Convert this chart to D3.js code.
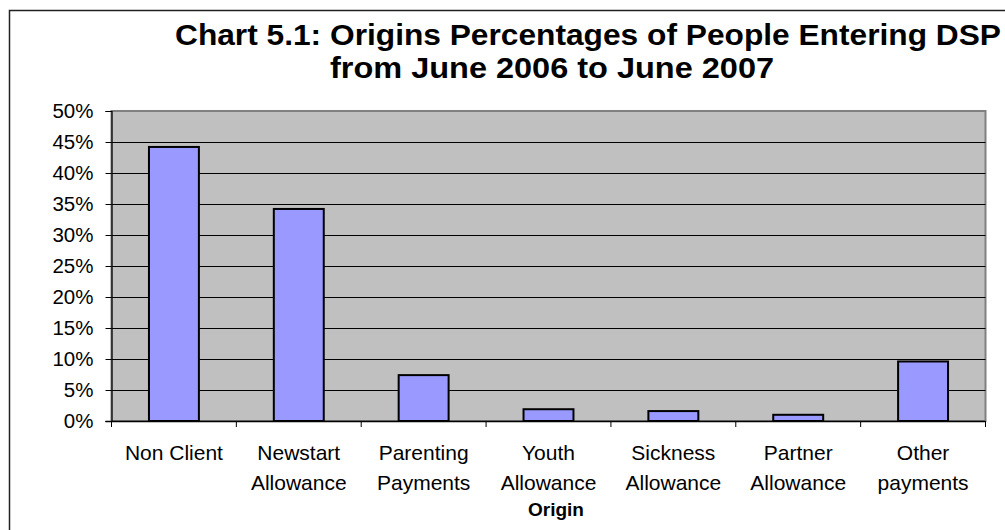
<!DOCTYPE html>
<html>
<head>
<meta charset="utf-8">
<script src="https://cdn.jsdelivr.net/npm/d3@7"></script>
<style>
  html, body { margin: 0; padding: 0; background: #fff; overflow: hidden; }
  svg { display: block; font-family: "Liberation Sans", Arial, sans-serif; }
</style>
</head>
<body>
<svg id="chart" width="1005" height="530"></svg>
<script>
// Origins of people entering DSP, June 2006 - June 2007
const categories = [
  ["Non Client"],
  ["Newstart", "Allowance"],
  ["Parenting", "Payments"],
  ["Youth", "Allowance"],
  ["Sickness", "Allowance"],
  ["Partner", "Allowance"],
  ["Other", "payments"]
];
const percentages = [44.2, 34.2, 7.4, 1.9, 1.6, 1.0, 9.6];
const yTicks = [0, 5, 10, 15, 20, 25, 30, 35, 40, 45, 50];
const titleLines = [
  "Chart 5.1: Origins Percentages of People Entering DSP",
  "from June 2006 to June 2007"
];
const xAxisTitle = "Origin";

const svg = d3.select("#chart");
const plot = { left: 111.5, right: 985.5, top: 111, bottom: 421 };

// outer chart frame (runs off the right and bottom edges)
svg.append("path")
  .attr("d", `M9.5,1000 V10.5 H1100`)
  .attr("fill", "none").attr("stroke", "#222").attr("stroke-width", 1.5);

const x = d3.scaleBand()
  .domain(d3.range(categories.length))
  .range([plot.left, plot.right])
  .paddingInner(0.6).paddingOuter(0.3);

const y = d3.scaleLinear().domain([0, 50]).range([plot.bottom, plot.top]);

// plot area background
svg.append("rect")
  .attr("x", plot.left).attr("y", plot.top)
  .attr("width", plot.right - plot.left).attr("height", plot.bottom - plot.top)
  .attr("fill", "#C0C0C0").attr("stroke", "#808080").attr("stroke-width", 2);

// horizontal gridlines
svg.append("g").selectAll("line")
  .data(yTicks.filter(d => d > 0 && d < 50))
  .join("line")
  .attr("x1", plot.left).attr("x2", plot.right)
  .attr("y1", d => Math.round(y(d)) + 0.5).attr("y2", d => Math.round(y(d)) + 0.5)
  .attr("stroke", "#000").attr("stroke-width", 1);

// bars
svg.append("g").selectAll("rect")
  .data(percentages)
  .join("rect")
  .attr("x", (d, i) => x(i))
  .attr("y", d => y(d))
  .attr("width", x.bandwidth())
  .attr("height", d => y(0) - y(d))
  .attr("fill", "#9999FF")
  .attr("stroke", "#000").attr("stroke-width", 2);

// y axis
const yAxis = d3.axisLeft(y)
  .tickValues(yTicks)
  .tickFormat(d => d + "%")
  .tickSize(6).tickPadding(12);
const gy = svg.append("g").attr("transform", `translate(${plot.left},0)`).call(yAxis);
gy.select(".domain").attr("stroke", "#000").attr("stroke-width", 1.2);
gy.selectAll(".tick line").attr("stroke", "#000");
gy.selectAll(".tick text")
  .attr("font-size", 20.5).attr("fill", "#000")
  .attr("font-family", "'Liberation Sans', Arial, sans-serif");

// x axis: ticks at category boundaries
const boundaries = d3.range(categories.length + 1).map(i => plot.left + i * (plot.right - plot.left) / categories.length);
const gx = svg.append("g");
gx.append("line")
  .attr("x1", plot.left - 6).attr("x2", plot.right)
  .attr("y1", plot.bottom + 0.5).attr("y2", plot.bottom + 0.5)
  .attr("stroke", "#000").attr("stroke-width", 1.5);
gx.selectAll("line.tk")
  .data(boundaries)
  .join("line").attr("class", "tk")
  .attr("x1", d => d).attr("x2", d => d)
  .attr("y1", plot.bottom).attr("y2", plot.bottom + 6)
  .attr("stroke", "#000").attr("stroke-width", 1);

// category labels
const labels = svg.append("g")
  .attr("font-size", 21).attr("fill", "#000").attr("text-anchor", "middle");
categories.forEach((lines, i) => {
  const cx = x(i) + x.bandwidth() / 2;
  const t = labels.append("text").attr("x", cx).attr("y", 460);
  lines.forEach((ln, j) => {
    t.append("tspan").attr("x", cx).attr("dy", j === 0 ? 0 : 30).text(ln);
  });
});

// axis title
svg.append("text")
  .attr("x", 556).attr("y", 516)
  .attr("text-anchor", "middle")
  .attr("font-size", 19).attr("font-weight", "bold")
  .text(xAxisTitle);

// chart title, two lines, slightly widened glyphs
const titleGroup = svg.append("g").attr("font-size", 29).attr("font-weight", "bold");
titleGroup.append("text").attr("x", 175).attr("y", 45)
  .attr("textLength", 826).attr("lengthAdjust", "spacingAndGlyphs")
  .text(titleLines[0]);
titleGroup.append("text").attr("x", 330).attr("y", 78)
  .attr("textLength", 444).attr("lengthAdjust", "spacingAndGlyphs")
  .text(titleLines[1]);
</script>
</body>
</html>
